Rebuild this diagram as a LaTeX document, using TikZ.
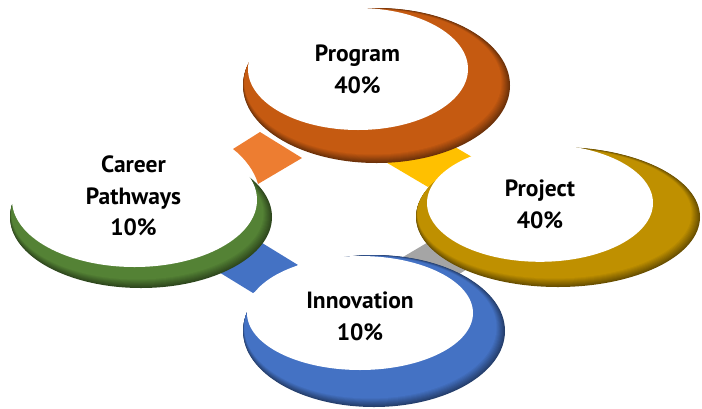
\documentclass[tikz,border=0pt]{standalone}
\usepackage{fontspec}
\setmainfont{PT Sans}
\definecolor{cprog}{HTML}{C55A11}
\definecolor{cproj}{HTML}{BF9000}
\definecolor{cinno}{HTML}{4472C4}
\definecolor{ccare}{HTML}{548235}
\definecolor{korange}{HTML}{ED7D31}
\definecolor{kyellow}{HTML}{FFC000}
\definecolor{kblue}{HTML}{4472C4}
\definecolor{kgray}{HTML}{A5A5A5}
\newcommand\myring[9]{%
  \foreach \i in {0,...,9}{%
    \pgfmathtruncatemacro\mixv{55+5*\i}%
    \fill[#1!\mixv!black] (#2-0.4*\i,#3-0.4*\i) ellipse [x radius=#4pt-0.55pt*\i, y radius=#5pt-0.55pt*\i];
  }%
  \fill[white] (#6,#7) ellipse [x radius=#8pt, y radius=#9pt];
}
\tikzset{lbl/.style={align=center,inner sep=0pt,text=black,font=\bfseries\fontsize{23.5}{31.7}\selectfont}}
\begin{document}
\begin{tikzpicture}[x=1pt,y=-1pt]
\useasboundingbox (0,0) rectangle (702,408);
% connectors
\fill[korange] (233,149) -- (260,132) -- (302,158) -- (258,184) .. controls (255,172) and (245,158) .. (233,149) -- cycle;
\fill[kyellow] (384,161) -- (428,131) -- (472,157) -- (428,187) -- cycle;
\fill[kblue] (209,266) -- (254,238) -- (298,265) -- (253,293) -- cycle;
\fill[kgray] (403,257) -- (447,231) -- (472,266) -- (445,283) -- cycle;
% rings
\myring{cprog}{376.5}{85.5}{133.5}{77.5}{358}{69}{110}{61}
\myring{ccare}{141}{217}{131}{71}{134.5}{200}{122.5}{67}
\myring{cproj}{558}{217}{142}{70}{540}{203}{113}{58.8}
\myring{cinno}{374}{331}{131}{76}{360}{313}{113}{57}
% labels
\node[lbl] (tprog) at (357.5,69) {Program\\40\%};
\node[lbl] (tcare) at (133.5,196) {Career\\Pathways\\10\%};
\node[lbl] (tproj) at (540,204) {Project\\40\%};
\node[lbl] (tinno) at (360,316) {Innovation\\10\%};
\end{tikzpicture}
\end{document}
